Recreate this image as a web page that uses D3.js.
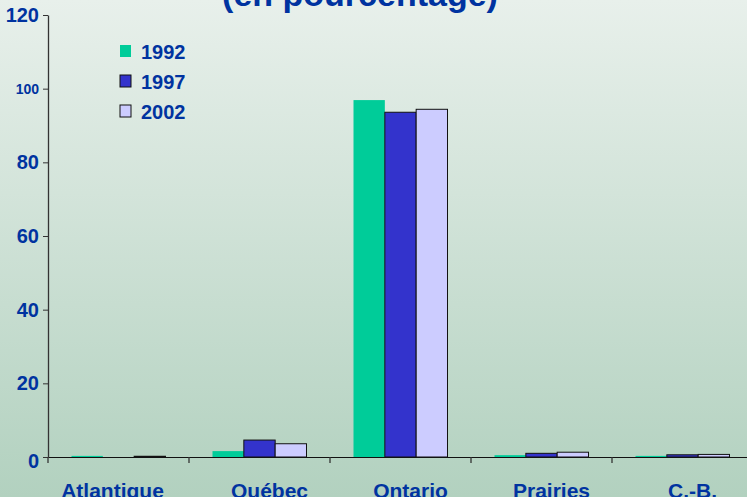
<!DOCTYPE html>
<html>
<head>
<meta charset="utf-8">
<script src="https://cdn.jsdelivr.net/npm/d3@7"></script>
<style>
  html, body { margin: 0; padding: 0; }
  body { width: 747px; height: 497px; overflow: hidden; }
  svg { display: block; font-family: Arial, "Liberation Sans", sans-serif; }
</style>
</head>
<body>
<div id="chart"></div>
<script>
// Données du graphique
const regions = ["Atlantique", "Québec", "Ontario", "Prairies", "C.-B."];
const years = ["1992", "1997", "2002"];
const values1992 = [0.3, 1.6, 96.9, 0.5, 0.3];
const values1997 = [0.0, 4.6, 93.6, 1.0, 0.6];
const values2002 = [0.2, 3.6, 94.4, 1.3, 0.7];
const yTicks = [0, 20, 40, 60, 80, 100, 120];

const seriesValues = [values1992, values1997, values2002];
const colors = ["#00cc99", "#3333cc", "#ccccff"];
const strokes = ["none", "#111", "#111"];
const blue = "#0033a0";

const W = 747, H = 497;
const svg = d3.select("#chart").append("svg")
    .attr("width", W)
    .attr("height", H);

// Fond dégradé
const grad = svg.append("defs").append("linearGradient")
    .attr("id", "bg").attr("x1", 0).attr("y1", 0).attr("x2", 0).attr("y2", 1);
grad.append("stop").attr("offset", "0%").attr("stop-color", "#e8f0eb");
grad.append("stop").attr("offset", "100%").attr("stop-color", "#b2d1bf");
svg.append("rect").attr("width", W).attr("height", H).attr("fill", "url(#bg)");

// Titre (coupé en haut)
svg.append("text")
    .attr("x", 360).attr("y", 6)
    .attr("text-anchor", "middle")
    .attr("fill", blue)
    .style("font-size", "34px").style("font-weight", "bold")
    .text("(en pourcentage)");

// Échelles
const x = d3.scaleBand().domain(regions).range([48, 753]).padding(0);
const xs = d3.scaleBand().domain(years).range([0, x.bandwidth()]).paddingInner(0).paddingOuter(0.75);
const y = d3.scaleLinear().domain([0, 120]).range([457, 15]);

// Barres
const groups = svg.append("g").selectAll("g")
    .data(regions)
    .join("g")
    .attr("transform", d => `translate(${x(d)},0)`);

groups.selectAll("rect")
    .data((r, i) => years.map((yr, k) => ({year: yr, k: k, value: seriesValues[k][i]})))
    .join("rect")
    .attr("x", d => xs(d.year))
    .attr("y", d => y(d.value))
    .attr("width", xs.bandwidth())
    .attr("height", d => y(0) - y(d.value))
    .attr("fill", d => colors[d.k])
    .attr("stroke", d => strokes[d.k])
    .attr("stroke-width", 1);

// Axe Y
const yAxis = svg.append("g")
    .attr("transform", "translate(48,0)")
    .call(d3.axisLeft(y).tickValues(yTicks).tickSize(5).tickSizeOuter(0).tickPadding(4));
yAxis.select(".domain").attr("stroke", "#333").attr("stroke-width", 1.3);
yAxis.selectAll(".tick line").attr("stroke", "#333");
yAxis.selectAll(".tick text")
    .attr("fill", blue)
    .style("font-weight", "bold")
    .style("font-size", d => d === 100 ? "14px" : "20px")
    .attr("dy", d => d === 0 ? "0.5em" : "0.32em");

// Axe X
const xAxis = svg.append("g")
    .attr("transform", "translate(0,457)")
    .call(d3.axisBottom(x).tickSize(0).tickPadding(26));
xAxis.select(".domain").attr("stroke", "#111").attr("stroke-width", 1.2);
xAxis.selectAll(".tick text")
    .attr("fill", blue)
    .attr("dx", (d, i) => i === 0 ? -6 : 10)
    .style("font-weight", "bold")
    .style("font-size", "21px");

// Graduations entre catégories
svg.append("g").selectAll("line")
    .data(regions)
    .join("line")
    .attr("x1", d => x(d)).attr("x2", d => x(d))
    .attr("y1", 457).attr("y2", 463)
    .attr("stroke", "#333").attr("stroke-width", 1.3);

// Légende
const legend = svg.append("g").selectAll("g")
    .data(years)
    .join("g")
    .attr("transform", (d, i) => `translate(120,${45 + i * 30})`);
legend.append("rect")
    .attr("width", 11).attr("height", 12)
    .attr("fill", (d, i) => colors[i])
    .attr("stroke", (d, i) => strokes[i]);
legend.append("text")
    .attr("x", 21).attr("y", 13.5)
    .attr("fill", blue)
    .style("font-weight", "bold")
    .style("font-size", "20px")
    .text(d => d);
</script>
</body>
</html>
